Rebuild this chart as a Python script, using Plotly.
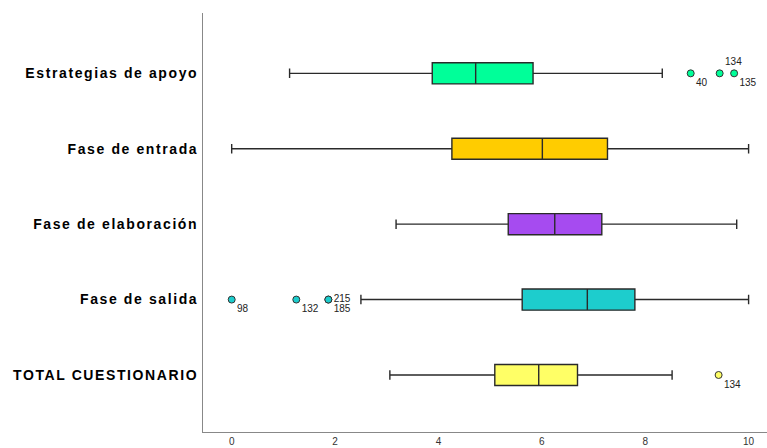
import plotly.graph_objects as go

categories = ["Estrategias de apoyo", "Fase de entrada", "Fase de elaboración",
              "Fase de salida", "TOTAL CUESTIONARIO"]
lower = [1.12, 0.0, 3.18, 2.50, 3.06]
q1 = [3.88, 4.26, 5.35, 5.62, 5.09]
median = [4.72, 6.01, 6.25, 6.88, 5.94]
q3 = [5.83, 7.27, 7.16, 7.80, 6.69]
upper = [8.33, 10.0, 9.77, 10.0, 8.52]
colors = ["#00FF99", "#FFCC00", "#A64BF0", "#1DCDCD", "#FFFF66"]

out_cat = ["Estrategias de apoyo"] * 3 + ["Fase de salida"] * 4 + ["TOTAL CUESTIONARIO"]
out_val = [8.88, 9.44, 9.72, 0.0, 1.25, 1.87, 1.87, 9.42]
out_lab = ["40", "134", "135", "98", "132", "215", "185", "134"]
out_pos = ["bottom right", "top right", "bottom right", "bottom right",
           "bottom right", "middle right", "bottom right", "bottom right"]

fig = go.Figure()
for i, c in enumerate(categories):
    fig.add_trace(go.Box(
        y=[c], q1=[q1[i]], median=[median[i]], q3=[q3[i]],
        lowerfence=[lower[i]], upperfence=[upper[i]],
        orientation="h", fillcolor=colors[i],
        line=dict(color="#2a2a2a", width=1.4),
        width=0.28, whiskerwidth=0.45, boxpoints=False,
        showlegend=False, hoverinfo="skip",
    ))

col_map = dict(zip(categories, colors))
fig.add_trace(go.Scatter(
    x=out_val, y=out_cat, mode="markers+text",
    text=out_lab, textposition=out_pos,
    textfont=dict(family="Liberation Sans, Arial", size=10, color="#222"),
    marker=dict(size=7, color=[col_map[c] for c in out_cat],
                line=dict(color="#333", width=1)),
    showlegend=False, hoverinfo="skip", cliponaxis=False,
))

fig.update_layout(
    width=767, height=448,
    margin=dict(l=203, r=0, t=13, b=16),
    paper_bgcolor="white", plot_bgcolor="white",
    font=dict(family="Liberation Sans, Arial", color="#222"),
)
fig.update_xaxes(
    range=[-0.555, 10.356], tickvals=[0, 2, 4, 6, 8, 10],
    showgrid=False, zeroline=False, showline=True, linecolor="#888",
    linewidth=1, ticks="", tickfont=dict(size=10, color="#333"),
)
fig.update_yaxes(
    type="category", categoryorder="array", categoryarray=categories,
    range=[4.756, -0.80], showgrid=False, zeroline=False,
    showline=True, linecolor="#888", linewidth=1, ticks="",
    tickfont=dict(family="Liberation Sans, Arial", size=14, color="#000", weight="bold"),
    ticklabelstandoff=1,
)

post = ("document.body.style.margin='0';"
        "document.querySelectorAll('.ytick text').forEach(function(t){"
        "t.style.letterSpacing='1.6px';});")
fig.write_html("out.html", post_script=post, config={"displayModeBar": False})
